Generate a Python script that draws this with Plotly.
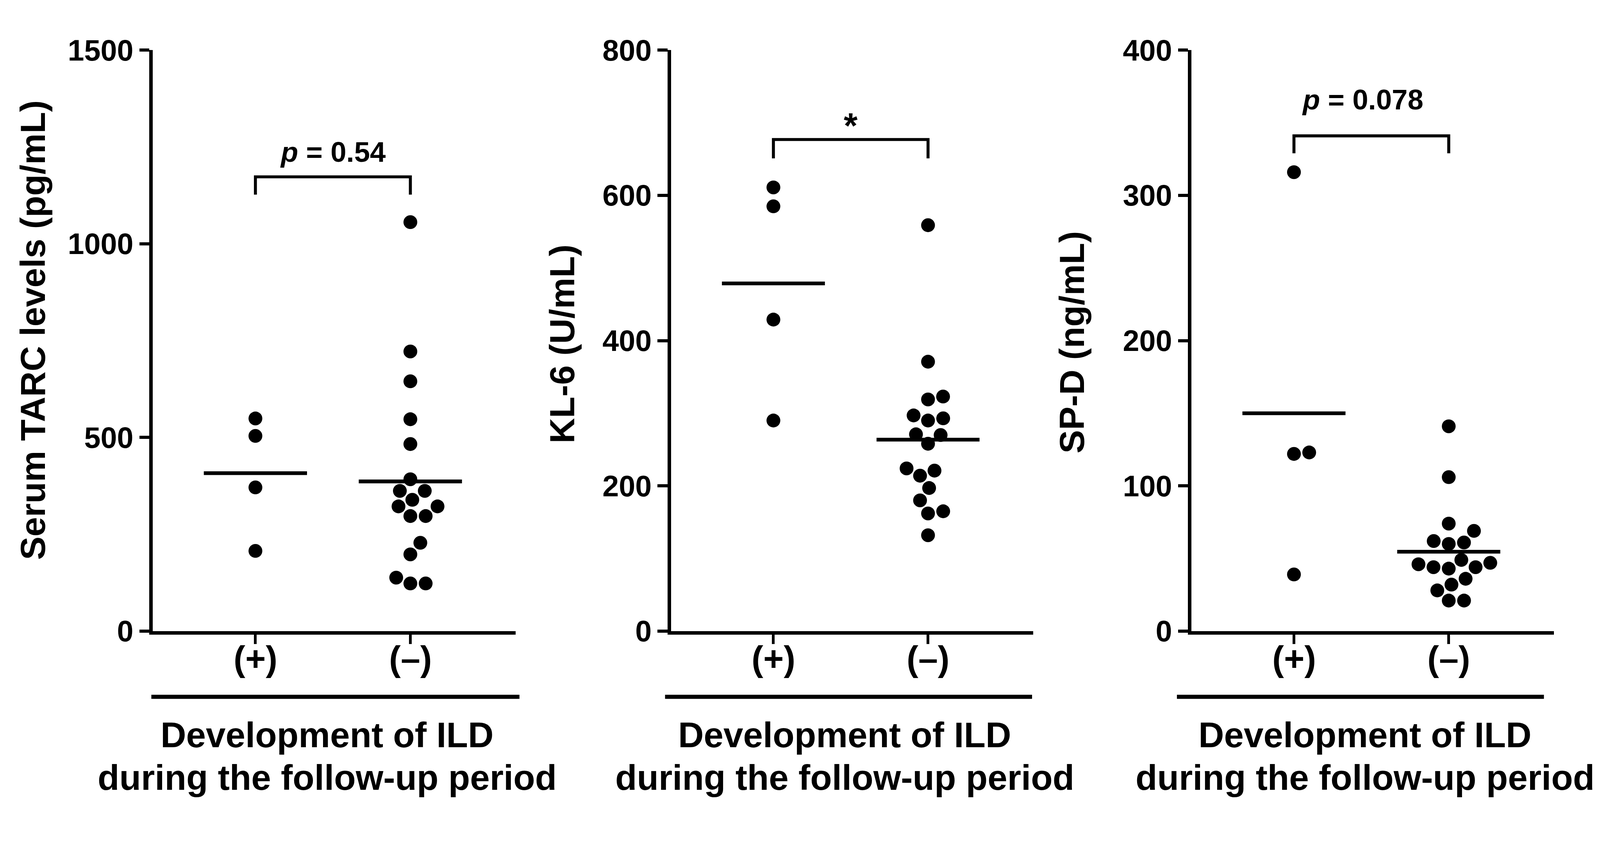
import math
import numpy as np
import plotly.graph_objects as go

# values
groups = ["(+)", "(\u2013)"]

tarc_pos = [549, 504, 371, 207]
tarc_neg = [1056, 722, 645, 547, 483, 392, 362, 362, 339, 322, 322, 297, 297, 228, 198, 138, 123, 123]

kl6_pos = [611, 585, 429, 290]
kl6_neg = [559, 371, 323, 319, 297, 293, 290, 271, 270, 258, 224, 221, 214, 197, 180, 165, 162, 132]

spd_pos = [316, 123, 122, 39]
spd_neg = [141, 106, 74, 69, 62, 61, 60, 49, 47, 46, 44, 43, 44, 36, 32, 28, 21, 21]

titles = ["Serum TARC levels (pg/mL)", "KL-6 (U/mL)", "SP-D (ng/mL)"]
y_max = [1500, 800, 400]
y_step = [500, 200, 100]
p_labels = ["<i>p</i> = 0.54", "*", "<i>p</i> = 0.078"]

# the page shows up slightly magnified, so the figure is built a bit
# smaller and every pixel size below (measured on the 4295 x 2175 original) is scaled
REF_W, REF_H = 4295, 2175
SC = 0.9558
W, H = round(REF_W * SC), round(REF_H * SC)
FONT = "Liberation Sans, Arial, sans-serif"


def s(v):
    return v * SC


# layout of each panel, in pixels of the original
panels = [
    dict(left=401, right=1373, title_x=80, title_y=875, sep=(397, 1383), text_x=868,
         bracket=(1173, 1127), p_x=0.5, p_y=1238, p_size=76),
    dict(left=1789, right=2759, title_x=1497, title_y=912, sep=(1773, 2756), text_x=2254,
         bracket=(677, 651), p_x=0.5, p_y=696, p_size=95),
    dict(left=3183, right=4154, title_x=2863, title_y=908, sep=(3144, 4127), text_x=3648,
         bracket=(341, 329), p_x=0.443, p_y=366, p_size=76),
]
top_px, bottom_px = 126, 1681
x_range = [-0.662, 1.68]
dot = 37


def swarm(vals, px_per_y, px_per_x, d):
    # simple beeswarm: place each dot as close to the centre as possible
    order = sorted(range(len(vals)), key=lambda i: vals[i])
    placed = []
    offs = [0.0] * len(vals)
    for i in order:
        y = vals[i] * px_per_y
        cands = [0.0]
        for (px, py) in placed:
            dy = abs(py - y)
            if dy < d:
                dx = math.sqrt(d * d - dy * dy)
                cands += [px - dx, px + dx]
        cands.sort(key=lambda c: (round(abs(c), 6), -c))
        for c in cands:
            if all((c - px) ** 2 + (y - py) ** 2 >= d * d - 1e-6 for px, py in placed):
                break
        placed.append((c, y))
        offs[i] = c / px_per_x
    return offs


def bold(size):
    return dict(family=FONT, size=s(size), color="black", weight="bold")


data = [(tarc_pos, tarc_neg), (kl6_pos, kl6_neg), (spd_pos, spd_neg)]

fig = go.Figure()
annotations = []
shapes = []

for k, (pos, neg) in enumerate(data):
    p = panels[k]
    xa = "x" if k == 0 else "x%d" % (k + 1)
    ya = "y" if k == 0 else "y%d" % (k + 1)
    px_x = (p["right"] - p["left"]) / (x_range[1] - x_range[0])
    px_y = (bottom_px - top_px) / y_max[k]

    for g, vals in enumerate([pos, neg]):
        offs = swarm(vals, px_y, px_x, 41)
        fig.add_trace(go.Scatter(
            x=[g + o for o in offs], y=vals, mode="markers",
            marker=dict(color="black", size=s(dot), line=dict(width=0)),
            xaxis=xa, yaxis=ya, showlegend=False))
        m = float(np.mean(vals))
        fig.add_trace(go.Scatter(
            x=[g - 0.333, g + 0.333], y=[m, m], mode="lines",
            line=dict(color="black", width=s(10)),
            xaxis=xa, yaxis=ya, showlegend=False))
        # group label under the tick
        annotations.append(dict(
            x=g, y=1 - 1754 / REF_H, xref=xa, yref="paper", text=groups[g], showarrow=False,
            xanchor="center", yanchor="middle", font=bold(94)))

    # significance bracket
    top, leg = p["bracket"]
    fig.add_trace(go.Scatter(
        x=[0, 0, 1, 1], y=[leg, top, top, leg], mode="lines",
        line=dict(color="black", width=s(8)),
        xaxis=xa, yaxis=ya, showlegend=False))
    annotations.append(dict(
        x=p["p_x"], y=p["p_y"], xref=xa, yref=ya, text=p_labels[k], showarrow=False,
        xanchor="center", yanchor="middle", font=bold(p["p_size"])))

    # y axis title
    annotations.append(dict(
        x=p["title_x"] / REF_W, y=1 - p["title_y"] / REF_H, xref="paper", yref="paper",
        text=titles[k], textangle=-90, showarrow=False,
        xanchor="center", yanchor="middle", font=bold(94)))

    # grouping line and label under the axis
    shapes.append(dict(
        type="line", xref="paper", yref="paper",
        x0=p["sep"][0] / REF_W, x1=p["sep"][1] / REF_W,
        y0=1 - 1857 / REF_H, y1=1 - 1857 / REF_H,
        line=dict(color="black", width=s(11))))
    for line_txt, base in [("Development of ILD", 1992), ("during the follow-up period", 2106)]:
        annotations.append(dict(
            x=p["text_x"] / REF_W, y=1 - (base - 33) / REF_H, xref="paper", yref="paper",
            text=line_txt, showarrow=False, xanchor="center", yanchor="middle",
            font=bold(95)))

    fig.layout[("xaxis" if k == 0 else "xaxis%d" % (k + 1))] = dict(
        domain=[p["left"] / REF_W, p["right"] / REF_W], anchor=ya, range=x_range,
        tickvals=[0, 1], showticklabels=False, automargin=False,
        showline=True, linewidth=s(9), linecolor="black",
        ticks="outside", ticklen=s(25), tickwidth=s(7), tickcolor="black",
        showgrid=False, zeroline=False)
    fig.layout[("yaxis" if k == 0 else "yaxis%d" % (k + 1))] = dict(
        domain=[1 - bottom_px / REF_H, 1 - top_px / REF_H], anchor=xa, range=[0, y_max[k]],
        tickvals=list(range(0, y_max[k] + 1, y_step[k])), automargin=False,
        showline=True, linewidth=s(9), linecolor="black",
        ticks="outside", ticklen=s(27), tickwidth=s(8), tickcolor="black",
        showgrid=False, zeroline=False, tickfont=bold(79))

fig.update_layout(
    template="none",
    width=W, height=H, autosize=False,
    margin=dict(l=0, r=0, t=0, b=0, pad=0),
    paper_bgcolor="white", plot_bgcolor="white",
    font=dict(family=FONT, color="black", weight="bold"),
    annotations=annotations, shapes=shapes, showlegend=False,
)

fig.write_html("out.html")
